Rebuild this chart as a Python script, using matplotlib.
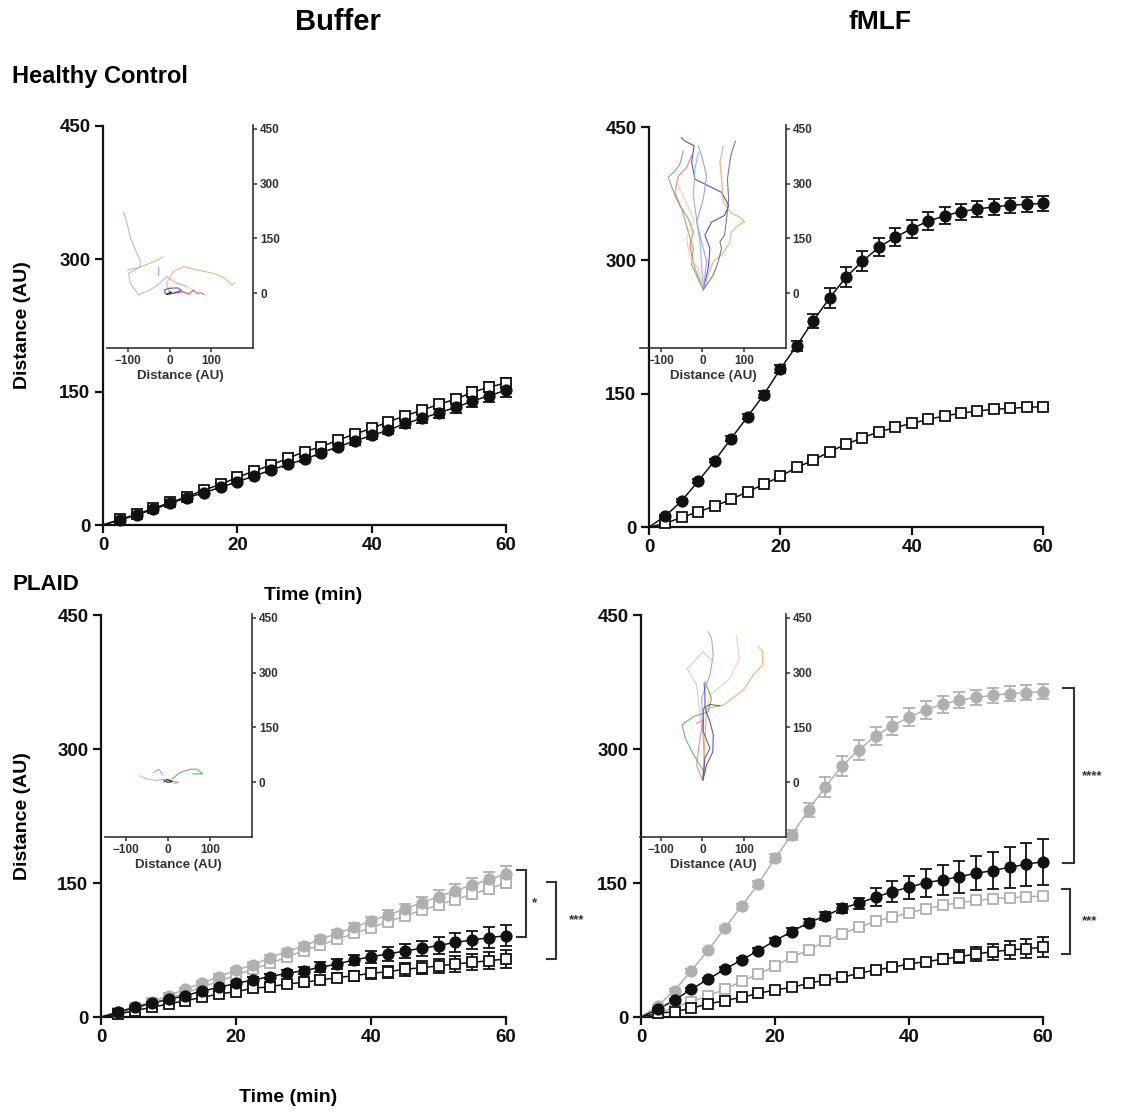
import matplotlib
matplotlib.use("Agg")
import matplotlib.pyplot as plt

plt.rcParams['font.family'] = ['Liberation Sans', 'DejaVu Sans']
plt.rcParams['font.weight'] = 'bold'
plt.rcParams['axes.labelweight'] = 'bold'

# ---------------- data ----------------
time_min = [2.5, 5, 7.5, 10, 12.5, 15, 17.5, 20, 22.5, 25, 27.5, 30,
            32.5, 35, 37.5, 40, 42.5, 45, 47.5, 50, 52.5, 55, 57.5, 60]
x_ticks = [0, 20, 40, 60]
y_ticks = [0, 150, 300, 450]
inset_x_ticks = [-100, 0, 100]
inset_y_ticks = [0, 150, 300, 450]

# Healthy control, buffer
hc_buf_filled = [5.6, 11.3, 17.7, 24.4, 30.8, 36.4, 42.5, 48.8, 55.2, 62.0, 68.4, 74.0,
                 81.5, 88.3, 94.7, 101.0, 107.0, 114.6, 120.2, 126.6, 132.6, 139.8, 145.8, 152.0]
hc_buf_filled_err = [1, 1, 1.5, 1.5, 2, 2, 2, 2.5, 2.5, 3, 3, 3, 3.5, 3.5, 4, 4, 4.5, 5, 5,
                     5.5, 6, 6.5, 7, 7.5]
hc_buf_open = [6.4, 12.0, 18.7, 25.4, 31.9, 39.5, 45.8, 53.7, 60.9, 67.6, 75.2, 82.7,
               88.3, 95.8, 102.6, 109.0, 116.5, 123.2, 129.6, 136.0, 142.0, 149.6, 155.7, 160.0]
hc_buf_open_err = [1, 1, 1.5, 1.5, 2, 2, 2, 2, 2.5, 2.5, 3, 3, 3, 3.5, 3.5, 4, 4, 4.5, 4.5,
                   5, 5, 5.5, 5.5, 6]

# Healthy control, fMLF
hc_fmlf_filled = [12.4, 29.6, 51.7, 74.6, 99.4, 124.0, 149.0, 177.8, 204.0, 231.8, 257.6, 281.0,
                  299.0, 314.6, 326.0, 335.6, 344.0, 350.0, 354.8, 357.8, 360.0, 362.0, 363.0, 364.0]
hc_fmlf_filled_err = [1, 1.5, 2, 2, 2.5, 3, 3.5, 4.5, 5.6, 8, 11, 11, 11, 10, 10, 10, 10, 9.5,
                      9, 8.5, 8.5, 8.5, 8.5, 8.5]
hc_fmlf_open = [4, 11, 17, 23.6, 31, 39.8, 48, 57, 67, 75, 84.8, 93, 100.5, 107, 112, 116.6,
                121, 125, 128, 130.5, 132.4, 133.5, 134.6, 135.4]
hc_fmlf_open_err = [0.5, 1, 1, 1, 1.5, 1.5, 1.5, 2, 2, 2, 2, 2.5, 2.5, 2.5, 2.5, 3, 3, 3, 3, 3,
                    3, 3, 3, 3]

# PLAID, buffer (grey = healthy reference)
pl_buf_ref_filled = [6, 11.6, 17.2, 23.9, 31, 38.4, 45.2, 52.6, 58.2, 66.4, 73.1, 79.5, 87,
                     93.7, 100.4, 107.5, 114.2, 121, 128, 134.7, 141.4, 147.8, 154.2, 160]
pl_buf_ref_filled_err = [1, 1, 1.5, 1.5, 2, 2, 2.5, 2.5, 3, 3, 3.5, 3.5, 4, 4, 4.5, 5, 5.5, 6,
                         6.5, 7, 7.5, 8, 8.5, 9]
pl_buf_ref_open = [5, 10, 15.5, 21, 27, 33.5, 40, 47, 53.5, 60, 67, 74, 80.5, 87, 93.5, 100,
                   106.5, 113, 119.5, 125.5, 131.5, 137.5, 143.5, 150]
pl_buf_ref_open_err = [1, 1, 1, 1.5, 1.5, 2, 2, 2, 2.5, 2.5, 3, 3, 3, 3.5, 3.5, 4, 4, 4.5, 4.5,
                       5, 5, 5.5, 6, 6]
pl_buf_filled = [5.2, 10.8, 15.3, 19.8, 23.9, 29.1, 33.2, 37.7, 41.4, 45.2, 48.9, 51.9, 55.6,
                 59.4, 63.8, 67.5, 70.5, 73.9, 76.9, 79.9, 83.6, 86.2, 88.8, 91]
pl_buf_filled_err = [1, 1, 1.5, 1.5, 2, 2, 2.5, 2.5, 3, 3, 3.5, 3.7, 5.6, 5.6, 5.6, 6.7, 7.5,
                     8, 8.2, 9.3, 10.5, 10.5, 11.6, 12]
pl_buf_open = [3.4, 7.1, 10.8, 14.6, 18.3, 22, 25.8, 28.4, 32.1, 33.9, 36.9, 38.8, 41.4, 44,
               46.3, 48.9, 50.7, 53.4, 55.2, 57.1, 59.4, 61.2, 63, 65]
pl_buf_open_err = [1, 1, 1.5, 1.5, 2, 2, 2.5, 2.5, 3, 3, 3.5, 4, 4.5, 5, 5.5, 6, 6.5, 7, 7.5, 8,
                   8.5, 9, 9.5, 10.5]

# PLAID, fMLF (grey = healthy reference)
pl_fmlf_filled = [8.6, 19, 31, 42.2, 53.4, 63.8, 74.3, 85.5, 95.6, 105.6, 113.1, 121.7, 127.3,
                  134, 140.3, 145.2, 150.4, 153.4, 157.1, 160.9, 163.9, 167.6, 171, 173.9]
pl_fmlf_filled_err = [1, 1.5, 2, 2, 2.5, 2.5, 3, 3, 3.5, 4, 4.5, 5, 6, 10, 12, 13, 15.6, 16.8,
                      18, 19, 21, 22.7, 24, 25.7]
pl_fmlf_open = [4.1, 6, 9.7, 14.6, 18.3, 22, 26.5, 30.2, 33.2, 37.7, 41.4, 44.4, 48.9, 52.6,
                55.6, 59.4, 62, 64.6, 67.5, 70.5, 73.1, 75, 76.5, 78]
pl_fmlf_open_err = [0.5, 1, 1, 1, 1.5, 1.5, 1.5, 2, 2, 2, 2.5, 2.5, 3, 3, 3.5, 4, 4, 5.6, 7, 8,
                    9, 10, 10.5, 11]

# significance annotations: (top value, bottom value, label)
sig_pl_buf = [(164, 90, '*'), (151.5, 64.6, '***')]
sig_pl_fmlf = [(368, 172, '****'), (143, 70.5, '***')]

# single-cell trajectories (x, y in AU)
tracks_hc_buf = {
    '#b9a2ea': [(-110, 223), (-106, 210), (-100, 185), (-94, 155), (-82, 120), (-70, 91), (-70, 73),
                (-85, 62), (-98, 55), (-94, 28), (-74, -4), (-47, 9), (-23, 28), (-7, 46), (17, 28), (41, 18)],
    '#f4a766': [(0, 0), (-7, 28), (9, 59), (33, 73), (65, 64), (105, 55), (132, 41), (148, 23), (156, 28)],
    '#f7c79b': [(0, 5), (25, 5), (49, -4), (57, 9), (40, 20), (20, 30)],
    '#bdbd7a': [(-100, 64), (-75, 70), (-47, 82), (-30, 90), (-15, 100)],
    '#e8405a': [(10, 0), (33, 5), (45, -2), (57, 9), (65, 0), (75, 2), (82, -3)],
    '#3434d2': [(-10, 0), (-12, 10), (0, 14), (20, 15), (28, 8), (15, 2), (0, -2)],
    '#5aa8f0': [(-27, 48), (-25, 60), (-27, 72)],
    '#111111': [(0, 0), (-8, -3), (5, 2), (0, 4)],
}
tracks_hc_fmlf = {
    '#3535d8': [(2, 10), (14, 69), (18, 123), (6, 159), (22, 195), (53, 213), (63, 240), (46, 276),
                (14, 294), (-18, 312), (-26, 358), (-20, 403), (-42, 416), (-50, 425)],
    '#4cbb4c': [(2, 10), (-26, 78), (-22, 123), (-34, 168), (-50, 231), (-66, 267), (-82, 317),
                (-66, 335), (-54, 353), (-46, 389)],
    '#f06474': [(2, 10), (-18, 69), (-26, 105), (-30, 132), (-22, 168), (-34, 204), (-54, 240),
                (-66, 276), (-58, 321), (-38, 344), (-26, 376)],
    '#f5a05a': [(2, 10), (14, 50), (26, 87), (46, 105), (65, 136), (70, 168), (86, 186), (101, 195),
                (89, 209), (70, 218), (50, 249), (46, 312), (42, 358), (50, 403)],
    '#f8c898': [(2, 10), (-10, 69), (-30, 96), (-38, 150), (-20, 200), (-40, 250), (-60, 300)],
    '#666666': [(2, 10), (26, 50), (38, 87), (46, 123), (42, 141), (53, 159), (58, 204), (63, 258),
                (60, 312), (68, 376), (79, 416)],
    '#a585e5': [(2, 10), (10, 87), (-2, 141), (-14, 195), (2, 258), (10, 321), (-2, 376), (-10, 403)],
    '#70b0f0': [(2, 10), (-2, 78), (-6, 141), (-14, 204), (-22, 267), (-18, 340), (-10, 385)],
}
tracks_pl_buf = {
    '#8ab8f0': [(-66, 18), (-50, 9), (-26, 5), (-6, 9)],
    '#c080e0': [(-34, 27), (-22, 36), (-18, 30), (-12, 20)],
    '#40b040': [(10, 10), (29, 27), (53, 36), (70, 36), (82, 23), (59, 23)],
    '#c08040': [(-10, 0), (2, 9), (10, 4)],
    '#999999': [(6, 5), (25, 0), (15, -3)],
    '#111111': [(-10, 5), (0, 0), (10, 2), (-4, 8)],
}
tracks_pl_fmlf = {
    '#b08ae0': [(1, 7), (6, 30), (2, 121), (-2, 230), (18, 293), (26, 348), (22, 393), (14, 411)],
    '#d2b8f0': [(2, 120), (-6, 184), (-14, 266), (-37, 311), (-21, 329), (2, 357), (26, 329)],
    '#f4a050': [(1, 7), (10, 202), (50, 211), (98, 252), (122, 293), (144, 320), (145, 357), (134, 371)],
    '#f8c8a0': [(10, 202), (18, 238), (66, 284), (89, 339), (81, 402)],
    '#50b050': [(3, 30), (-21, 75), (-41, 120), (-49, 157), (-21, 180), (14, 193), (22, 230), (6, 275)],
    '#f07090': [(-2, 12), (-14, 48), (-6, 121), (2, 170), (-14, 161)],
    '#3a3ad0': [(1, 7), (10, 48), (25, 84), (26, 130), (18, 166), (6, 202), (6, 243), (4, 270)],
    '#555555': [(1, 7), (6, 66), (18, 93), (2, 139), (2, 202), (18, 213), (42, 209)],
}

# ---------------- figure ----------------
W, H = 1125, 1114
fig = plt.figure(figsize=(W / 100, H / 100), dpi=100)


def axes_px(left, top, right, bottom):
    return fig.add_axes([left / W, 1 - bottom / H, (right - left) / W, (bottom - top) / H])


BLACK = '#111111'
GREY = '#b0b0b0'


def series(ax, vals, err, filled, color):
    ax.errorbar(time_min, vals, yerr=err, fmt='none', ecolor=color, elinewidth=1.3,
                capsize=4.5, capthick=1.3, clip_on=False, zorder=3)
    ax.plot([0] + time_min, [0] + vals, '-', color=color, lw=1.1, clip_on=False, zorder=4)
    if filled:
        ax.plot(time_min, vals, 'o', ms=7.8, color=color, mec=color, clip_on=False, zorder=5)
    else:
        ax.plot(time_min, vals, 's', ms=7.2, mfc='white', mec=color, mew=1.3, clip_on=False, zorder=5)


def style_main(ax):
    ax.set_xlim(0, 60)
    ax.set_ylim(0, 450)
    ax.set_xticks(x_ticks)
    ax.set_yticks(y_ticks)
    for s in ['top', 'right']:
        ax.spines[s].set_visible(False)
    for s in ['left', 'bottom']:
        ax.spines[s].set_linewidth(1.6)
        ax.spines[s].set_color(BLACK)
    ax.tick_params(length=6, width=1.6, labelsize=13.5, pad=3, colors=BLACK)
    ax.patch.set_alpha(0)


def inset(left, top, right, bottom, tracks):
    ax = axes_px(left, top, right, bottom)
    for c, pts in tracks.items():
        ax.plot([p[0] for p in pts], [p[1] for p in pts], color=c, lw=0.8, alpha=0.85)
    ax.set_xlim(-150, 200)
    ax.set_ylim(-150, 460)
    ax.set_xticks(inset_x_ticks)
    ax.set_yticks(inset_y_ticks)
    ax.yaxis.tick_right()
    for s in ['top', 'left']:
        ax.spines[s].set_visible(False)
    for s in ['right', 'bottom']:
        ax.spines[s].set_linewidth(1.2)
        ax.spines[s].set_color('#333333')
    ax.tick_params(length=3, width=1.1, labelsize=8.5, pad=2, colors='#333333')
    ax.set_xlabel('Distance (AU)', fontsize=9.5, labelpad=2, color='#333333')
    ax.patch.set_alpha(0)
    return ax


def bracket(ax, top, bottom, xv, xt, label, xtext):
    ax.plot([xt, xv, xv, xt], [top, top, bottom, bottom], color='#333333', lw=1.5,
            clip_on=False, solid_joinstyle='miter')
    ax.text(xtext, (top + bottom) / 2, label, ha='left', va='center', fontsize=9.5,
            color='#333333')


# Healthy control, buffer
ax1 = axes_px(103, 126, 506, 525)
series(ax1, hc_buf_open, hc_buf_open_err, False, BLACK)
series(ax1, hc_buf_filled, hc_buf_filled_err, True, BLACK)
style_main(ax1)
ax1.set_ylabel('Distance (AU)', fontsize=14)
ax1.yaxis.set_label_coords(-0.178, 0.5)
inset(106.7, 125, 253.3, 348.3, tracks_hc_buf)

# Healthy control, fMLF
ax2 = axes_px(649, 127, 1043, 527)
series(ax2, hc_fmlf_open, hc_fmlf_open_err, False, BLACK)
series(ax2, hc_fmlf_filled, hc_fmlf_filled_err, True, BLACK)
style_main(ax2)
inset(640, 125, 785.7, 348.3, tracks_hc_fmlf)

# PLAID, buffer
ax3 = axes_px(101, 615, 506, 1017)
series(ax3, pl_buf_ref_open, pl_buf_ref_open_err, False, GREY)
series(ax3, pl_buf_ref_filled, pl_buf_ref_filled_err, True, GREY)
series(ax3, pl_buf_open, pl_buf_open_err, False, BLACK)
series(ax3, pl_buf_filled, pl_buf_filled_err, True, BLACK)
style_main(ax3)
ax3.set_ylabel('Distance (AU)', fontsize=14)
ax3.yaxis.set_label_coords(-0.172, 0.5)
inset(105, 614, 252, 837.3, tracks_pl_buf)
bracket(ax3, sig_pl_buf[0][0], sig_pl_buf[0][1], 62.9, 61.6, sig_pl_buf[0][2], 63.9)
bracket(ax3, sig_pl_buf[1][0], sig_pl_buf[1][1], 67.4, 66.0, sig_pl_buf[1][2], 69.3)

# PLAID, fMLF
ax4 = axes_px(641, 615, 1043, 1017)
series(ax4, hc_fmlf_open, hc_fmlf_open_err, False, GREY)
series(ax4, hc_fmlf_filled, hc_fmlf_filled_err, True, GREY)
series(ax4, pl_fmlf_open, pl_fmlf_open_err, False, BLACK)
series(ax4, pl_fmlf_filled, pl_fmlf_filled_err, True, BLACK)
style_main(ax4)
inset(640, 614, 785.7, 837.3, tracks_pl_fmlf)
bracket(ax4, sig_pl_fmlf[0][0], sig_pl_fmlf[0][1], 64.6, 63.0, sig_pl_fmlf[0][2], 65.8)
bracket(ax4, sig_pl_fmlf[1][0], sig_pl_fmlf[1][1], 64.1, 62.8, sig_pl_fmlf[1][2], 65.8)

# texts
fig.text(338 / W, 1 - 22 / H, 'Buffer', ha='center', va='center', fontsize=21)
fig.text(880 / W, 1 - 22 / H, 'fMLF', ha='center', va='center', fontsize=19)
fig.text(12 / W, 1 - 77 / H, 'Healthy Control', ha='left', va='center', fontsize=17)
fig.text(12 / W, 1 - 584 / H, 'PLAID', ha='left', va='center', fontsize=16)
fig.text(313 / W, 1 - 595 / H, 'Time (min)', ha='center', va='center', fontsize=14)
fig.text(288 / W, 1 - 1098 / H, 'Time (min)', ha='center', va='center', fontsize=14)

fig.savefig('out.png', dpi=100, facecolor='white')
